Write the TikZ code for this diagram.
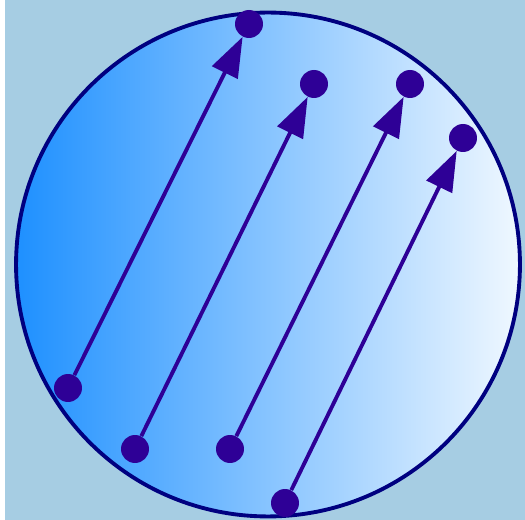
\documentclass[tikz,border=0pt]{standalone}
\usepackage{tikz}
\usetikzlibrary{arrows.meta}
\definecolor{sky}{HTML}{A6CDE3}
\definecolor{navy}{HTML}{000080}
\definecolor{indigo}{HTML}{2E0096}
\definecolor{dodger}{HTML}{1E90FF}
\definecolor{alice}{HTML}{F0F8FF}

\begin{document}
\begin{tikzpicture}[x=0.02cm,y=-0.02cm,>={Triangle[length=0.8cm,width=0.56cm]},
  dot/.style={circle,fill=indigo,inner sep=0pt,minimum size=0.56cm},
  vec/.style={->,indigo,line width=2.2pt}]
\useasboundingbox (0,0) rectangle (525,520);
\fill[white] (0,0) rectangle (525,520);
\fill[sky] (5,0) rectangle (525,520);
% the disc
\shade[left color=dodger,right color=alice] (268,264.5) circle(5.04cm);
\draw[navy,line width=2.2pt] (268,264.5) circle(5.04cm);
% tails
\node[dot] (tailA) at (68,388) {};
\node[dot] (tailB) at (135,449) {};
\node[dot] (tailC) at (230,449) {};
\node[dot] (tailD) at (285,503) {};
% heads
\node[dot] (headA) at (249,24) {};
\node[dot] (headB) at (314,84) {};
\node[dot] (headC) at (410,84) {};
\node[dot] (headD) at (463,138) {};
\draw[vec] (tailA)--(headA);
\draw[vec] (tailB)--(headB);
\draw[vec] (tailC)--(headC);
\draw[vec] (tailD)--(headD);
\end{tikzpicture}
\end{document}
